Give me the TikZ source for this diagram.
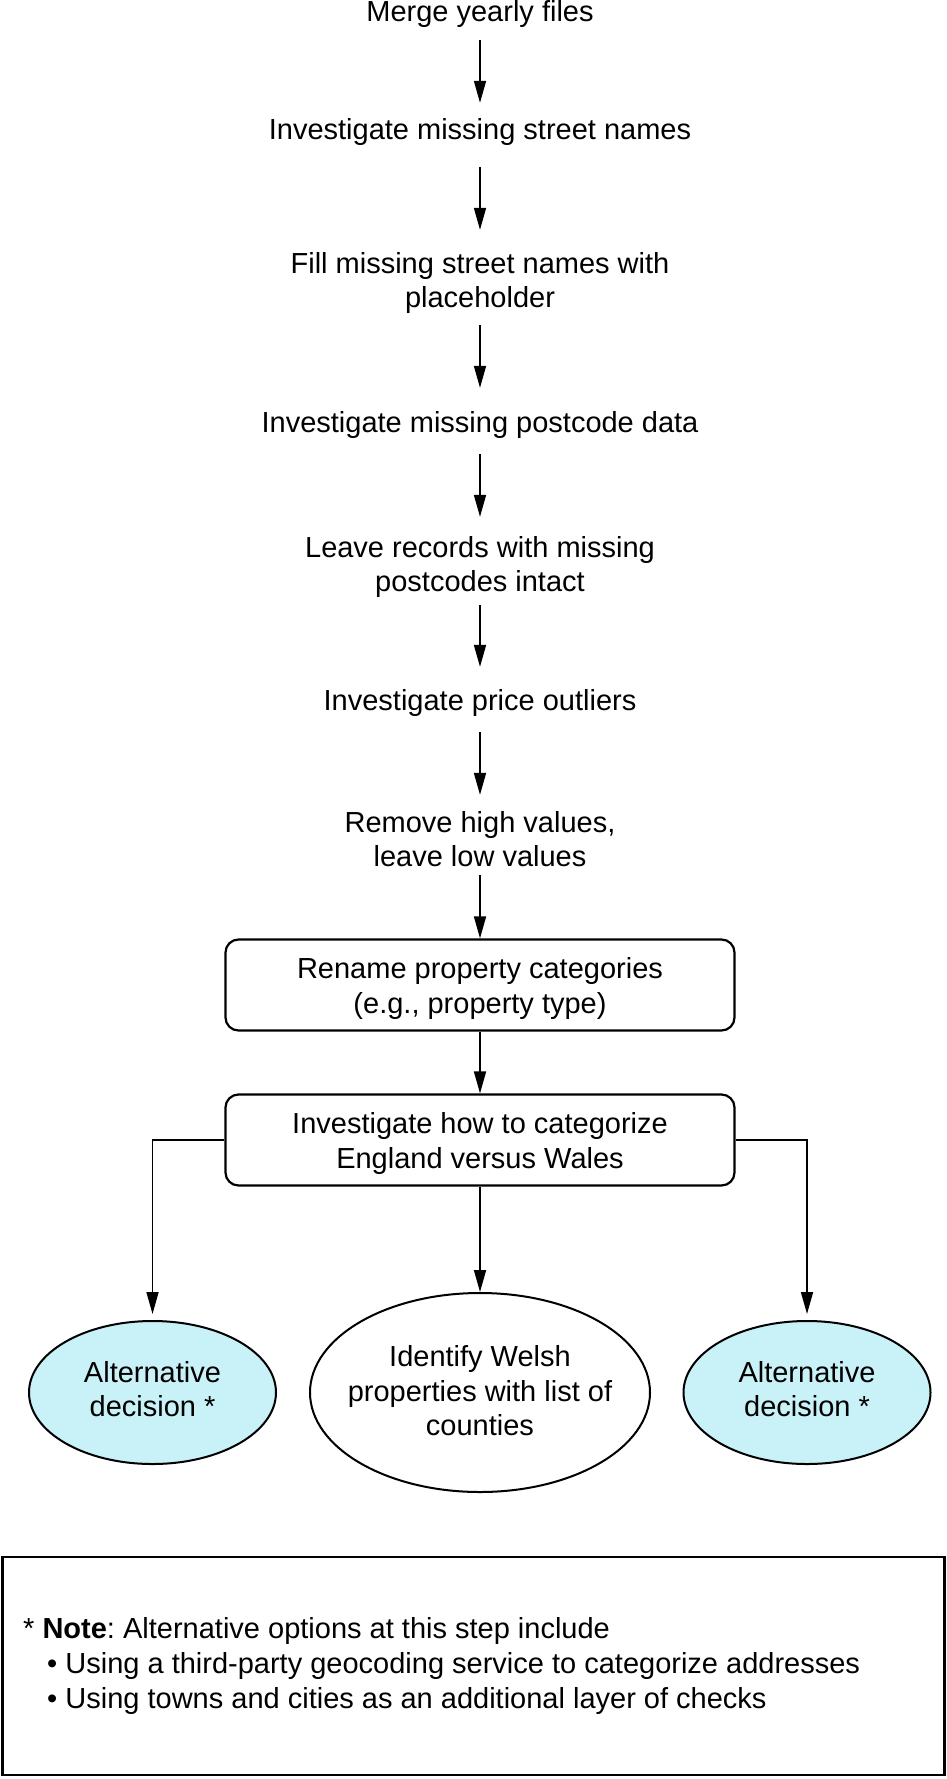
\documentclass[tikz,border=0pt]{standalone}
\usepackage{fontspec}
\setmainfont{Liberation Sans}
\usetikzlibrary{arrows.meta,shapes.geometric}
\definecolor{altfill}{RGB}{201,241,248}
\newcommand{\mlines}[1]{\begin{tabular}[t]{@{}c@{}}#1\end{tabular}}
\frenchspacing
\begin{document}
\begin{tikzpicture}[x=1pt,y=-1pt,
  every node/.style={font=\fontsize{29}{34.5}\selectfont},
  txt/.style={inner sep=0pt, anchor=base},
  arr/.style={line width=1.7pt, -{Triangle[length=22pt,width=12pt]}},
  stepbox/.style={draw, line width=2.2pt, rounded corners=13pt, minimum width=509pt,
    minimum height=91pt, inner sep=0pt, text height=24pt, text depth=37pt},
  ell/.style={ellipse, draw, line width=2pt, fill=white, inner sep=0pt},
  altell/.style={ell, fill=altfill, minimum width=247pt, minimum height=143pt},
  notebox/.style={draw, line width=2.2pt, inner sep=0pt, minimum width=942pt, minimum height=218pt}
]
\useasboundingbox (0,0) rectangle (946,1779);

\node[txt, text height=22pt, text depth=18pt] (n1) at (480,22) {Merge yearly files};
\node[txt, text height=37pt, text depth=27pt] (n2) at (480,140) {Investigate missing street names};
\node[txt, text height=43pt, text depth=52pt] (n3) at (480,273) {\mlines{Fill missing street names with\\placeholder}};
\node[txt, text height=44pt, text depth=22pt] (n4) at (480,432) {Investigate missing postcode data};
\node[txt, text height=40pt, text depth=48pt] (n5) at (480,557) {\mlines{Leave records with missing\\postcodes intact}};
\node[txt, text height=43pt, text depth=22pt] (n6) at (480,710) {Investigate price outliers};
\node[txt, text height=37pt, text depth=43pt] (n7) at (480,832) {\mlines{Remove high values,\\leave low values}};
\node[stepbox] (b1) at (480,985) {\mlines{Rename property categories\\(e.g., property type)}};
\node[stepbox] (b2) at (480,1140) {\mlines{Investigate how to categorize\\England versus Wales}};

\node[altell] (altL) at (152.5,1392.5) {};
\node[txt] (altLt) at (152.5,1382) {\mlines{Alternative\\decision *}};
\node[ell, minimum width=340pt, minimum height=199pt] (welsh) at (480,1392.5) {};
\node[txt] (welsht) at (480,1366.5) {\mlines{Identify Welsh\\properties with list of\\counties}};
\node[altell] (altR) at (807,1392.5) {};
\node[txt] (altRt) at (807,1382) {\mlines{Alternative\\decision *}};

\node[notebox] (note) at (473.4,1666) {};
\node[inner sep=0pt, anchor=base west, font=\fontsize{29}{35}\selectfont] (notet) at (23,1638)
  {\begin{tabular}[t]{@{}l@{}}* \textbf{Note}: Alternative options at this step include\\
   \hspace*{24pt}•\ Using a third-party geocoding service to categorize addresses\\
   \hspace*{24pt}•\ Using towns and cities as an additional layer of checks\end{tabular}};

\draw[arr] (n1.south) -- (n2.north);
\draw[arr] (n2.south) -- (n3.north);
\draw[arr] (n3.south) -- (n4.north);
\draw[arr] (n4.south) -- (n5.north);
\draw[arr] (n5.south) -- (n6.north);
\draw[arr] (n6.south) -- (n7.north);
\draw[arr] (n7.south) -- (b1.north);
\draw[arr] (b1.south) -- (b2.north);
\draw[arr] (b2.south) -- (welsh.north);
\draw[arr, shorten >=6pt] (b2.west) -| (altL.north);
\draw[arr, shorten >=6pt] (b2.east) -| (altR.north);
\end{tikzpicture}
\end{document}
